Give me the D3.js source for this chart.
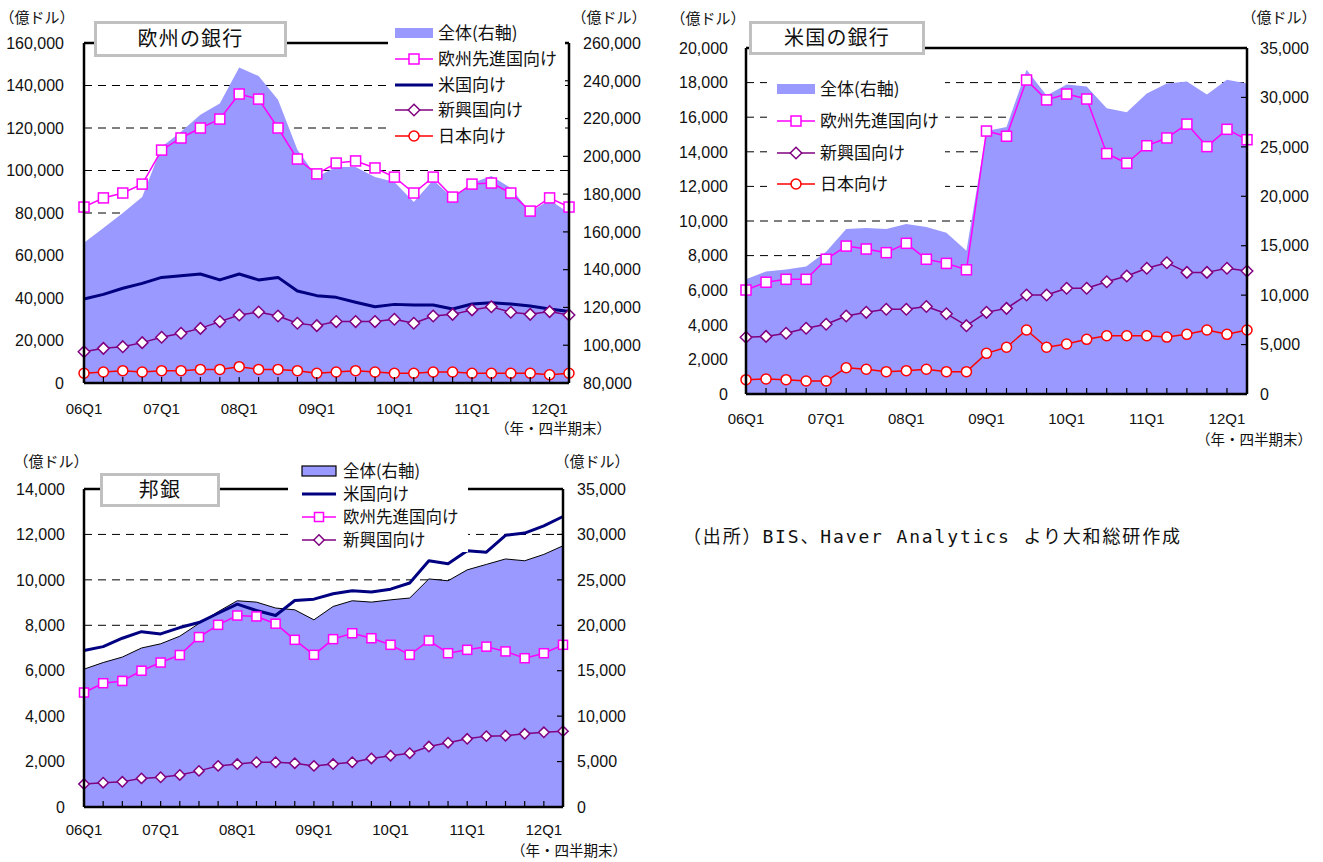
<!DOCTYPE html>
<html>
<head>
<meta charset="utf-8">
<script src="https://cdn.jsdelivr.net/npm/d3@7"></script>
<style>
  body { margin: 0; background: #fff; }
  svg { display: block; }
</style>
</head>
<body>
<svg id="chart" width="1323" height="862"></svg>
<script>
// Quarter-end observations, 2006Q1 to 2012Q2
const quarters = ["06Q1","06Q2","06Q3","06Q4","07Q1","07Q2","07Q3","07Q4",
                  "08Q1","08Q2","08Q3","08Q4","09Q1","09Q2","09Q3","09Q4",
                  "10Q1","10Q2","10Q3","10Q4","11Q1","11Q2","11Q3","11Q4",
                  "12Q1","12Q2"];
const quarterTickLabels = ["06Q1","07Q1","08Q1","09Q1","10Q1","11Q1","12Q1"];

// European banks (億ドル)
const euTotal  = [154300,162000,170000,178500,205000,213000,222000,228000,247000,242500,230000,203500,
                  189000,194400,194400,189000,186400,175800,187500,177900,185900,189600,183200,170500,176900,170000];
const euEurope = [82800,87100,89400,93600,109600,115300,120000,124200,136000,133600,120000,105400,
                  98400,103500,104500,101200,96900,89400,96900,87500,93600,94100,89400,80900,87100,82800];
const euUS     = [39500,41700,44600,46900,49700,50500,51300,48500,51300,48500,49700,43300,
                  41100,40300,38000,35900,37000,36700,36700,34800,37200,37800,37200,36200,34800,33600];
const euEM     = [14700,16300,17100,19000,21500,23400,25700,28900,32000,33400,31500,28100,
                  27000,28900,28900,28900,30000,28100,31500,32300,34400,35900,33300,32300,33600,32000];
const euJapan  = [4600,5200,5800,5200,5800,5800,6400,6400,7700,6400,6400,5800,
                  4600,5200,5800,5200,4600,4600,5200,5200,4600,4600,4600,4600,3900,4600];

// US banks (億ドル)
const usTotal  = [11600,12400,12600,12900,14400,16700,16800,16700,17200,16900,16300,14500,
                  26600,27000,32800,30200,31300,31100,28900,28500,30400,31400,31600,30300,31800,31400];
const usEurope = [6010,6460,6630,6630,7790,8550,8380,8170,8710,7790,7550,7180,
                  15200,14900,18150,17000,17340,17050,13900,13340,14350,14800,15600,14300,15300,14700];
const usEM     = [3280,3330,3510,3800,4030,4510,4720,4900,4900,5060,4640,3950,
                  4720,4950,5720,5720,6110,6110,6490,6820,7270,7590,7030,7030,7270,7110];
const usJapan  = [830,870,830,750,750,1520,1430,1290,1350,1430,1290,1290,
                  2350,2700,3700,2700,2890,3160,3370,3370,3370,3290,3450,3700,3450,3700];

// Japanese banks (億ドル)
const jpTotal  = [15170,15900,16500,17500,17960,18800,20200,21500,22700,22550,21900,21700,
                  20600,22070,22700,22550,22800,23000,25100,24900,26100,26700,27300,27100,27800,28750];
const jpUS     = [6890,7060,7430,7720,7620,7900,8120,8530,8930,8650,8430,9090,
                  9150,9390,9520,9470,9590,9860,10840,10710,11280,11220,11960,12060,12380,12790];
const jpEurope = [5040,5450,5550,6000,6360,6690,7480,8020,8430,8390,8070,7360,
                  6700,7390,7650,7430,7140,6700,7330,6770,6920,7060,6850,6550,6770,7140];
const jpEM     = [1010,1070,1110,1260,1310,1410,1590,1810,1890,1970,1970,1930,
                  1810,1890,1970,2140,2260,2370,2660,2830,3000,3120,3140,3220,3290,3340];

const svg = d3.select("#chart");
svg.append("rect").attr("width", 1323).attr("height", 862).attr("fill", "#fff");

const NUM_FONT = "'Liberation Sans', Arial, sans-serif";
const JP_FONT = "'Noto Sans CJK JP', 'Noto Sans CJK SC', sans-serif";
const AREA_FILL = "#9999FF";
const fmt = d3.format(",");

const seriesStyle = {
  europe: { color: "#FF00FF", marker: "square",  width: 1.5 },
  us:     { color: "#000080", marker: null,      width: 3 },
  em:     { color: "#800080", marker: "diamond", width: 1.5 },
  japan:  { color: "#FF0000", marker: "circle",  width: 1.5 }
};

function drawMarker(g, type, size, color) {
  const s = size / 2;
  let m;
  if (type === "square") {
    m = g.append("rect").attr("x", -s).attr("y", -s).attr("width", size).attr("height", size);
  } else if (type === "circle") {
    m = g.append("circle").attr("r", s);
  } else if (type === "diamond") {
    const d = s * 1.15;
    m = g.append("path").attr("d", `M0,${-d}L${d},0L0,${d}L${-d},0Z`);
  }
  if (m) m.attr("fill", "#fff").attr("stroke", color).attr("stroke-width", 1.5);
}

function drawPanel(o) {
  const g = svg.append("g");
  const x = d3.scalePoint().domain(quarters).range([o.left, o.right]);
  const yL = d3.scaleLinear().domain(o.leftDomain).range([o.bottom, o.top]);
  const yR = d3.scaleLinear().domain(o.rightDomain).range([o.bottom, o.top]);
  const leftTicks = d3.range(o.leftDomain[0], o.leftDomain[1] + 1, o.leftStep);
  const rightTicks = d3.range(o.rightDomain[0], o.rightDomain[1] + 1, o.rightStep);

  // dashed gridlines on the left-axis scale
  g.append("g").selectAll("line")
    .data(leftTicks.filter(v => v > o.leftDomain[0] && v < o.leftDomain[1]))
    .join("line")
    .attr("x1", o.left).attr("x2", o.right)
    .attr("y1", d => yL(d)).attr("y2", d => yL(d))
    .attr("stroke", "#000").attr("stroke-width", 1)
    .attr("stroke-dasharray", "8,6");

  // total (right axis) as a filled area
  const area = d3.area()
    .x((d, i) => x(quarters[i]))
    .y0(o.bottom)
    .y1(d => yR(d));
  g.append("path").datum(o.total).attr("d", area).attr("fill", AREA_FILL);
  if (o.totalOutline) {
    g.append("path").datum(o.total)
      .attr("d", d3.line().x((d, i) => x(quarters[i])).y(d => yR(d)))
      .attr("fill", "none").attr("stroke", "#000").attr("stroke-width", 1);
  }

  // line series on the left axis
  o.series.forEach(s => {
    const st = seriesStyle[s.key];
    g.append("path").datum(s.values)
      .attr("d", d3.line().x((d, i) => x(quarters[i])).y(d => yL(d)))
      .attr("fill", "none").attr("stroke", st.color).attr("stroke-width", st.width)
      .attr("stroke-linejoin", "round");
    if (st.marker) {
      s.values.forEach((v, i) => {
        const mg = g.append("g").attr("transform", `translate(${x(quarters[i])},${yL(v)})`);
        drawMarker(mg, st.marker, o.markerSize, st.color);
      });
    }
  });

  // frame
  const frame = g.append("g").attr("stroke", "#000").attr("stroke-width", 2.5).attr("fill", "none");
  frame.append("line").attr("x1", o.left).attr("x2", o.left).attr("y1", o.top).attr("y2", o.bottom);
  frame.append("line").attr("x1", o.left).attr("x2", o.right).attr("y1", o.bottom).attr("y2", o.bottom);
  frame.append("line").attr("x1", o.right).attr("x2", o.right).attr("y1", o.top).attr("y2", o.bottom);
  frame.append("line").attr("x1", o.left).attr("x2", o.right).attr("y1", o.top).attr("y2", o.top);

  // inside tick marks on the category axis and the right axis
  g.append("g").selectAll("line").data(quarters).join("line")
    .attr("x1", d => x(d)).attr("x2", d => x(d))
    .attr("y1", o.bottom).attr("y2", o.bottom - 6)
    .attr("stroke", "#000").attr("stroke-width", 1.2);
  g.append("g").selectAll("line").data(rightTicks).join("line")
    .attr("x1", o.right - 6).attr("x2", o.right)
    .attr("y1", d => yR(d)).attr("y2", d => yR(d))
    .attr("stroke", "#000").attr("stroke-width", 1.2);

  // tick labels
  g.append("g").selectAll("text").data(leftTicks).join("text")
    .attr("x", o.leftLabelX).attr("y", d => yL(d)).attr("dy", "0.36em")
    .attr("text-anchor", "end").attr("font-family", NUM_FONT).attr("font-size", 16)
    .attr("fill", "#111").text(d => fmt(d));
  g.append("g").selectAll("text").data(rightTicks).join("text")
    .attr("x", o.rightLabelX).attr("y", d => yR(d)).attr("dy", "0.36em")
    .attr("text-anchor", "start").attr("font-family", NUM_FONT).attr("font-size", 16)
    .attr("fill", "#111").text(d => fmt(d));
  g.append("g").selectAll("text").data(quarterTickLabels).join("text")
    .attr("x", d => x(d)).attr("y", o.xLabelY).attr("dy", "0.36em")
    .attr("text-anchor", "middle").attr("font-family", NUM_FONT).attr("font-size", 15)
    .attr("fill", "#111").text(d => d);

  // unit captions
  const cap = (cx, cy, t, fs) => g.append("text").attr("x", cx).attr("y", cy).attr("dy", "0.36em")
    .attr("text-anchor", "middle").attr("font-family", JP_FONT).attr("font-size", fs)
    .attr("fill", "#111").text(t);
  cap(o.unitLeft[0], o.unitLeft[1], "（億ドル）", 15);
  cap(o.unitRight[0], o.unitRight[1], "（億ドル）", 15);
  cap(o.periodNote[0], o.periodNote[1], "（年・四半期末）", 14.5);

  // legend
  const L = o.legend;
  g.append("rect").attr("x", L.box[0]).attr("y", L.box[1])
    .attr("width", L.box[2]).attr("height", L.box[3]).attr("fill", "#fff");
  L.items.forEach((it, k) => {
    const cy = L.ys[k];
    if (it.key === "total") {
      g.append("rect").attr("x", L.x0).attr("y", cy - 5).attr("width", L.x1 - L.x0).attr("height", 10)
        .attr("fill", AREA_FILL)
        .attr("stroke", o.totalOutline ? "#000" : "none").attr("stroke-width", 1.2);
    } else {
      const st = seriesStyle[it.key];
      g.append("line").attr("x1", L.x0).attr("x2", L.x1).attr("y1", cy).attr("y2", cy)
        .attr("stroke", st.color).attr("stroke-width", st.width);
      if (st.marker) {
        const mg = g.append("g").attr("transform", `translate(${(L.x0 + L.x1) / 2},${cy})`);
        drawMarker(mg, st.marker, o.markerSize, st.color);
      }
    }
    g.append("text").attr("x", L.tx).attr("y", cy).attr("dy", "0.36em")
      .attr("font-family", JP_FONT).attr("font-size", L.fontSize).attr("fill", "#111")
      .text(it.label);
  });

  // title box
  const T = o.title;
  g.append("rect").attr("x", T.box[0]).attr("y", T.box[1]).attr("width", T.box[2]).attr("height", T.box[3])
    .attr("fill", "#fff").attr("stroke", "#C0C0C0").attr("stroke-width", 3);
  g.append("text").attr("x", T.box[0] + T.box[2] / 2).attr("y", T.box[1] + T.box[3] / 2).attr("dy", "0.36em")
    .attr("text-anchor", "middle").attr("font-family", JP_FONT).attr("font-size", 20)
    .attr("letter-spacing", 1.2).attr("fill", "#111").text(T.text);
}

drawPanel({
  left: 84, right: 569, top: 43, bottom: 383,
  leftDomain: [0, 160000], leftStep: 20000,
  rightDomain: [80000, 260000], rightStep: 20000,
  leftLabelX: 64, rightLabelX: 583, xLabelY: 409,
  markerSize: 10,
  total: euTotal, totalOutline: false,
  series: [
    { key: "us", values: euUS },
    { key: "europe", values: euEurope },
    { key: "em", values: euEM },
    { key: "japan", values: euJapan }
  ],
  unitLeft: [37, 18], unitRight: [609, 18], periodNote: [553, 429],
  legend: {
    box: [388, 20, 177, 130], x0: 395, x1: 433, tx: 438, fontSize: 17,
    ys: [33, 59, 85, 110, 136],
    items: [
      { key: "total", label: "全体(右軸)" },
      { key: "europe", label: "欧州先進国向け" },
      { key: "us", label: "米国向け" },
      { key: "em", label: "新興国向け" },
      { key: "japan", label: "日本向け" }
    ]
  },
  title: { box: [95.5, 22.5, 190, 33], text: "欧州の銀行" }
});

drawPanel({
  left: 746, right: 1247, top: 48, bottom: 394,
  leftDomain: [0, 20000], leftStep: 2000,
  rightDomain: [0, 35000], rightStep: 5000,
  leftLabelX: 728, rightLabelX: 1260, xLabelY: 419,
  markerSize: 10,
  total: usTotal, totalOutline: false,
  series: [
    { key: "europe", values: usEurope },
    { key: "em", values: usEM },
    { key: "japan", values: usJapan }
  ],
  unitLeft: [708, 19], unitRight: [1279, 18], periodNote: [1254, 440],
  legend: {
    box: [767, 68, 178, 132], x0: 777, x1: 815, tx: 820, fontSize: 17,
    ys: [89, 121, 153, 184],
    items: [
      { key: "total", label: "全体(右軸)" },
      { key: "europe", label: "欧州先進国向け" },
      { key: "em", label: "新興国向け" },
      { key: "japan", label: "日本向け" }
    ]
  },
  title: { box: [750.5, 22.5, 173, 31], text: "米国の銀行" }
});

drawPanel({
  left: 84, right: 563, top: 489, bottom: 807,
  leftDomain: [0, 14000], leftStep: 2000,
  rightDomain: [0, 35000], rightStep: 5000,
  leftLabelX: 65, rightLabelX: 577, xLabelY: 830,
  markerSize: 9,
  total: jpTotal, totalOutline: true,
  series: [
    { key: "us", values: jpUS },
    { key: "europe", values: jpEurope },
    { key: "em", values: jpEM }
  ],
  unitLeft: [51, 462], unitRight: [592, 462], periodNote: [569, 851],
  legend: {
    box: [288, 456, 180, 96], x0: 302, x1: 336, tx: 343, fontSize: 16.5,
    ys: [471, 494, 517, 540],
    items: [
      { key: "total", label: "全体(右軸)" },
      { key: "us", label: "米国向け" },
      { key: "europe", label: "欧州先進国向け" },
      { key: "em", label: "新興国向け" }
    ]
  },
  title: { box: [101.5, 474.5, 117, 31], text: "邦銀" }
});

// source note
svg.append("text").attr("x", 683).attr("y", 537).attr("dy", "0.36em")
  .attr("font-family", "'DejaVu Sans Mono', 'Noto Sans CJK JP', monospace")
  .attr("font-size", 18).attr("fill", "#111")
  .attr("textLength", 497).attr("lengthAdjust", "spacing")
  .text("（出所）BIS、Haver Analytics より大和総研作成");
</script>
</body>
</html>
